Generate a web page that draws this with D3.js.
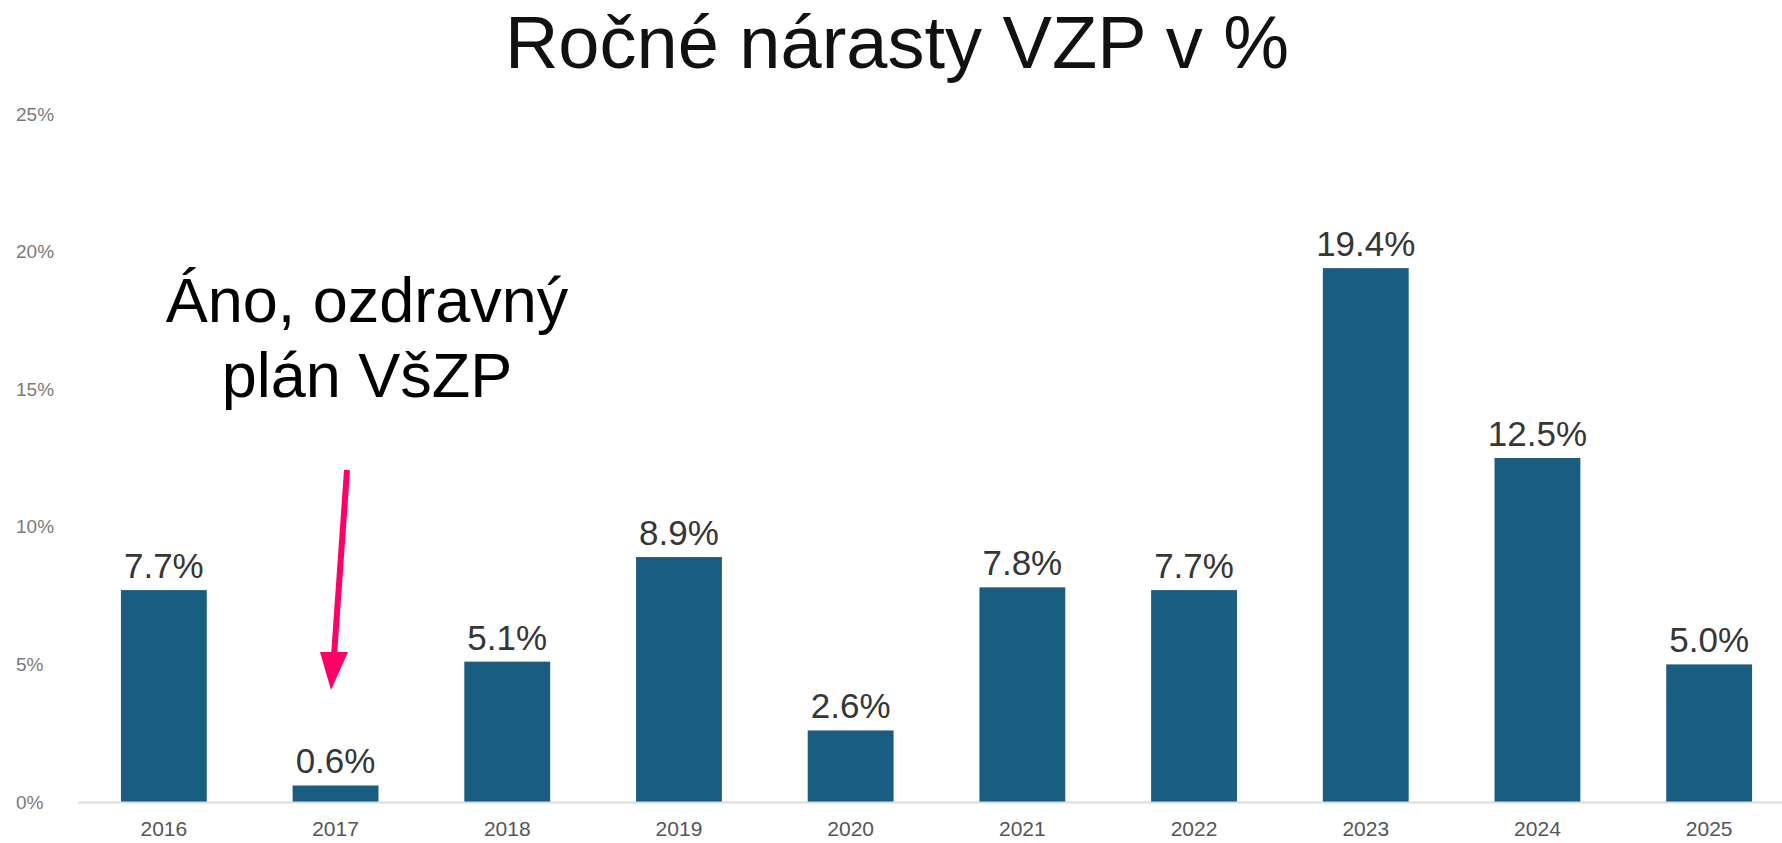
<!DOCTYPE html>
<html>
<head>
<meta charset="utf-8">
<script src="https://cdn.jsdelivr.net/npm/d3@7"></script>
<style>
  body { margin: 0; background: #fff; }
  svg { display: block; font-family: "Liberation Sans", Arial, sans-serif; }
</style>
</head>
<body>
<svg id="chart"></svg>
<script>
// data
const years = ['2016','2017','2018','2019','2020','2021','2022','2023','2024','2025'];
const growth = [7.7, 0.6, 5.1, 8.9, 2.6, 7.8, 7.7, 19.4, 12.5, 5.0];
const yTicks = [0, 5, 10, 15, 20, 25];
const title = 'Ročné nárasty VZP v %';
const noteLines = ['Áno, ozdravný', 'plán VšZP'];

document.addEventListener('DOMContentLoaded', () => {
    const w = 1782;
    const h = 843;
    const base = 802;

    const chart = d3.select('#chart')
                    .attr('width', w)
                    .attr('height', h);

    const xScale = d3.scaleBand()
                    .domain(years)
                    .range([78, 1795])
                    .paddingInner(0.5)
                    .paddingOuter(0.25);

    const yScale = d3.scaleLinear()
                    .domain([0, 25])
                    .range([base, 114]);

    // title
    chart.append('text')
        .attr('x', 897)
        .attr('y', 68)
        .attr('text-anchor', 'middle')
        .style('font-size', '74px')
        .style('fill', '#111')
        .text(title);

    // y axis labels only
    const yAxis = d3.axisLeft(yScale)
                    .tickValues(yTicks)
                    .tickSize(0)
                    .tickFormat(d => d + '%');
    const yg = chart.append('g')
        .attr('id', 'y-axis')
        .attr('transform', 'translate(16,0)')
        .call(yAxis);
    yg.select('.domain').remove();
    yg.selectAll('text')
        .attr('x', 0)
        .attr('text-anchor', 'start')
        .style('font-family', '"Liberation Sans", Arial, sans-serif')
        .style('font-size', '19px')
        .style('fill', '#7a7a7a');

    // bars
    chart.selectAll('rect.bar')
        .data(growth)
        .enter()
        .append('rect')
        .attr('class', 'bar')
        .attr('x', (d, i) => xScale(years[i]))
        .attr('y', d => yScale(d))
        .attr('width', xScale.bandwidth())
        .attr('height', d => base - yScale(d))
        .attr('fill', '#195d80');

    // value labels
    chart.selectAll('text.val')
        .data(growth)
        .enter()
        .append('text')
        .attr('class', 'val')
        .attr('x', (d, i) => xScale(years[i]) + xScale.bandwidth() / 2)
        .attr('y', d => yScale(d) - 12)
        .attr('text-anchor', 'middle')
        .style('font-size', '35px')
        .style('fill', '#363636')
        .text(d => d.toFixed(1) + '%');

    // x axis
    const xAxis = d3.axisBottom(xScale).tickSize(0).tickSizeOuter(0).tickPadding(19);
    const xg = chart.append('g')
        .attr('id', 'x-axis')
        .attr('transform', `translate(0,${base})`)
        .call(xAxis);
    xg.select('.domain')
        .attr('stroke', '#dcdcdc')
        .attr('stroke-width', 2);
    xg.selectAll('text')
        .style('font-family', '"Liberation Sans", Arial, sans-serif')
        .style('font-size', '21px')
        .style('fill', '#555');

    // annotation
    const note = chart.append('text')
        .attr('text-anchor', 'middle')
        .style('font-size', '63px')
        .style('fill', '#000');
    note.selectAll('tspan')
        .data(noteLines)
        .enter()
        .append('tspan')
        .attr('x', 367)
        .attr('y', (d, i) => 322 + i * 75)
        .text(d => d);

    const pink = '#ff0066';
    chart.append('line')
        .attr('x1', 347).attr('y1', 470)
        .attr('x2', 334).attr('y2', 656)
        .attr('stroke', pink)
        .attr('stroke-width', 6);
    chart.append('path')
        .attr('d', 'M320,652 L348,652 L331,690 Z')
        .attr('fill', pink);
});
</script>
</body>
</html>
